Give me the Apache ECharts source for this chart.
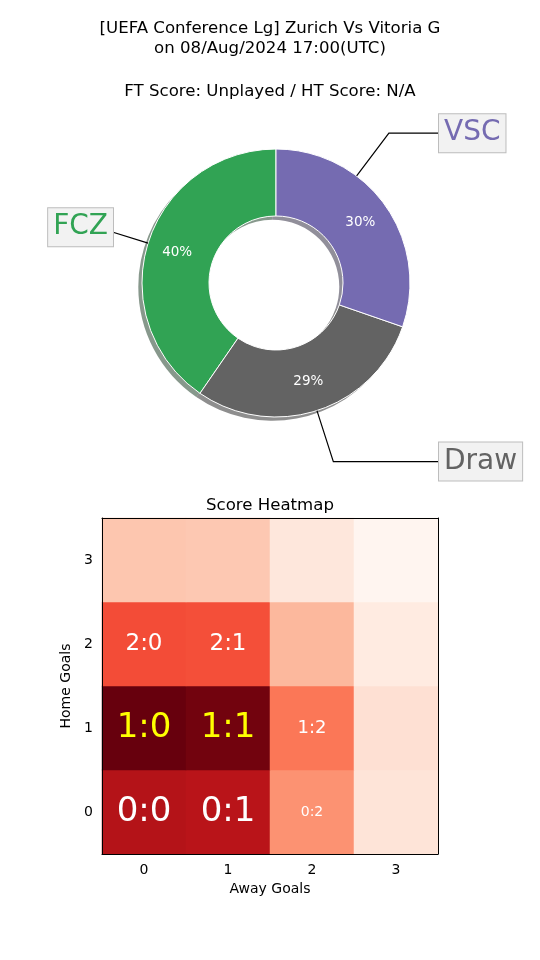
<!DOCTYPE html>
<html>
<head>
<meta charset="utf-8">
<script src="https://cdn.jsdelivr.net/npm/echarts@6/dist/echarts.min.js"></script>
<style>html,body{margin:0;padding:0;background:#fff;}#c{width:540px;height:960px;}</style>
</head>
<body>
<div id="c"></div>
<script>
// ---- data ----
const titleLines = ['[UEFA Conference Lg] Zurich Vs Vitoria G', 'on 08/Aug/2024 17:00(UTC)'];
const subTitle = 'FT Score: Unplayed / HT Score: N/A';
const outcomeNames = ['FCZ', 'Draw', 'VSC'];
const outcomeValues = [40.4, 29.3, 30.3];
const outcomeColors = ['#31a354', '#636363', '#756bb1'];
const homeGoals = ['0', '1', '2', '3'];
const awayGoals = ['0', '1', '2', '3'];
// rows: home goals 0..3, cols: away goals 0..3 (probability %)
const scoreProb = [
  [11.3, 11.1, 5.4, 1.8],
  [13.6, 13.3, 6.5, 2.1],
  [8.1, 8.0, 3.9, 1.3],
  [3.3, 3.2, 1.6, 0.5]
];
const shownScores = ['0:0', '0:1', '1:0', '1:1', '2:0', '2:1', '1:2', '0:2'];
const highlightScores = ['1:0', '1:1'];

// ---- layout / style ----
const FONT = 'DejaVu Sans';
const cx = 276, cy = 283, R = 134, r = 67;
const shadowDx = -3.7, shadowDy = 3.7;
const labelAnchorDeg = [162.7, 287.8, 53];
const scoreFont = {'0:0': 34, '0:1': 34, '1:0': 34, '1:1': 34, '2:0': 23, '2:1': 23, '1:2': 18, '0:2': 14};
const reds = ['#fff5f0', '#fee0d2', '#fcbba1', '#fc9272', '#fb6a4a', '#ef3b2c', '#cb181d', '#a50f15', '#67000d'];

function shade(hex) {
  const n = parseInt(hex.slice(1), 16);
  const c = [(n >> 16) & 255, (n >> 8) & 255, n & 255].map(v => Math.round(v * 0.3));
  return 'rgba(' + c.join(',') + ',0.5)';
}

const pieData = outcomeNames.map((n, i) => ({name: n, value: outcomeValues[i], itemStyle: {color: outcomeColors[i]}}));
const shadowData = outcomeNames.map((n, i) => ({name: n, value: outcomeValues[i], itemStyle: {color: shade(outcomeColors[i])}}));
const labelData = outcomeNames.map((n, i) => ({
  name: n, value: outcomeValues[i],
  label: {color: outcomeColors[i]}
}));

const heatData = [];
let vmin = Infinity, vmax = -Infinity;
for (let h = 0; h < homeGoals.length; h++) {
  for (let a = 0; a < awayGoals.length; a++) {
    const v = scoreProb[h][a];
    vmin = Math.min(vmin, v); vmax = Math.max(vmax, v);
    const key = homeGoals[h] + ':' + awayGoals[a];
    const item = {value: [a, h, v]};
    if (shownScores.indexOf(key) >= 0) {
      item.label = {
        show: true, formatter: key, fontFamily: FONT,
        fontSize: scoreFont[key],
        color: highlightScores.indexOf(key) >= 0 ? '#ffff00' : '#ffffff'
      };
    }
    heatData.push(item);
  }
}

const chart = echarts.init(document.getElementById('c'), null, {renderer: 'canvas'});
const axisTxt = {color: '#000', fontFamily: FONT, fontSize: 14};
const titleTxt = {fontFamily: FONT, fontSize: 16.6, fontWeight: 'normal', color: '#000', lineHeight: 20};
chart.setOption({
  animation: false,
  backgroundColor: '#fff',
  title: [
    {text: titleLines.join('\n'), left: 'center', top: 14, textStyle: titleTxt},
    {text: subTitle, left: 'center', top: 77, textStyle: titleTxt},
    {text: 'Score Heatmap', left: 'center', top: 491, textStyle: titleTxt}
  ],
  grid: {left: 102, top: 518, width: 336, height: 336, containLabel: false},
  xAxis: [
    {type: 'category', data: awayGoals, position: 'bottom', z: 10,
     name: 'Away Goals', nameLocation: 'middle', nameGap: 28, nameTextStyle: axisTxt,
     axisLine: {lineStyle: {color: '#000', width: 1}},
     axisTick: {alignWithLabel: true, length: 3.5, lineStyle: {color: '#000'}},
     axisLabel: Object.assign({margin: 9}, axisTxt), splitLine: {show: false}},
    {type: 'category', data: awayGoals, position: 'top', z: 10,
     axisLine: {lineStyle: {color: '#000', width: 1}},
     axisTick: {show: false}, axisLabel: {show: false}, splitLine: {show: false}}
  ],
  yAxis: [
    {type: 'category', data: homeGoals, position: 'left', z: 10,
     name: 'Home Goals', nameLocation: 'middle', nameGap: 25, nameTextStyle: axisTxt,
     axisLine: {lineStyle: {color: '#000', width: 1}},
     axisTick: {alignWithLabel: true, length: 3.5, lineStyle: {color: '#000'}},
     axisLabel: Object.assign({margin: 9}, axisTxt), splitLine: {show: false}},
    {type: 'category', data: homeGoals, position: 'right', z: 10,
     axisLine: {lineStyle: {color: '#000', width: 1}},
     axisTick: {show: false}, axisLabel: {show: false}, splitLine: {show: false}}
  ],
  visualMap: {show: false, seriesIndex: 3, min: vmin, max: vmax, dimension: 2, inRange: {color: reds}},
  series: [
    {type: 'pie', silent: true, center: [cx + shadowDx, cy + shadowDy], radius: [r, R],
     startAngle: 90, clockwise: false, label: {show: false}, labelLine: {show: false},
     itemStyle: {borderWidth: 0}, data: shadowData, z: 1},
    {type: 'pie', center: [cx, cy], radius: [r, R], startAngle: 90, clockwise: false,
     avoidLabelOverlap: false,
     itemStyle: {borderColor: '#fff', borderWidth: 1},
     label: {show: true, position: 'inside', fontFamily: FONT, fontSize: 13.5, color: '#fff',
             formatter: p => Math.round(p.percent) + '%'},
     labelLine: {show: false}, data: pieData, z: 2},
    {type: 'pie', silent: true, center: [cx, cy], radius: [r, R], startAngle: 90, clockwise: false,
     avoidLabelOverlap: false,
     itemStyle: {color: 'rgba(0,0,0,0)', borderWidth: 0},
     label: {show: true, position: 'outside', fontFamily: FONT, fontSize: 28, lineHeight: 32,
             backgroundColor: '#f2f2f2', borderColor: '#bdbdbd', borderWidth: 1, padding: [3, 5],
             formatter: p => p.name},
     labelLine: {show: true, lineStyle: {color: '#000', width: 1.2}},
     labelLayout: function (p) {
       const ang = labelAnchorDeg[p.dataIndex] * Math.PI / 180;
       const c = Math.cos(ang), s = Math.sin(ang);
       const sx = cx + R * c, sy = cy - R * s;
       const ty = cy - 1.4 * R * s;
       const side = c >= 0 ? 1 : -1;
       const tx = cx + side * 163;
       const t = (sy - ty) / s;
       const ex = sx + t * c;
       return {
         x: tx, y: ty, align: side > 0 ? 'left' : 'right', verticalAlign: 'middle',
         labelLinePoints: [[sx, sy], [ex, ty], [tx, ty]]
       };
     },
     data: labelData, z: 3},
    {type: 'heatmap', xAxisIndex: 0, yAxisIndex: 0, data: heatData,
     label: {show: false}, itemStyle: {borderWidth: 0}, emphasis: {disabled: true}}
  ]
});
</script>
</body>
</html>
